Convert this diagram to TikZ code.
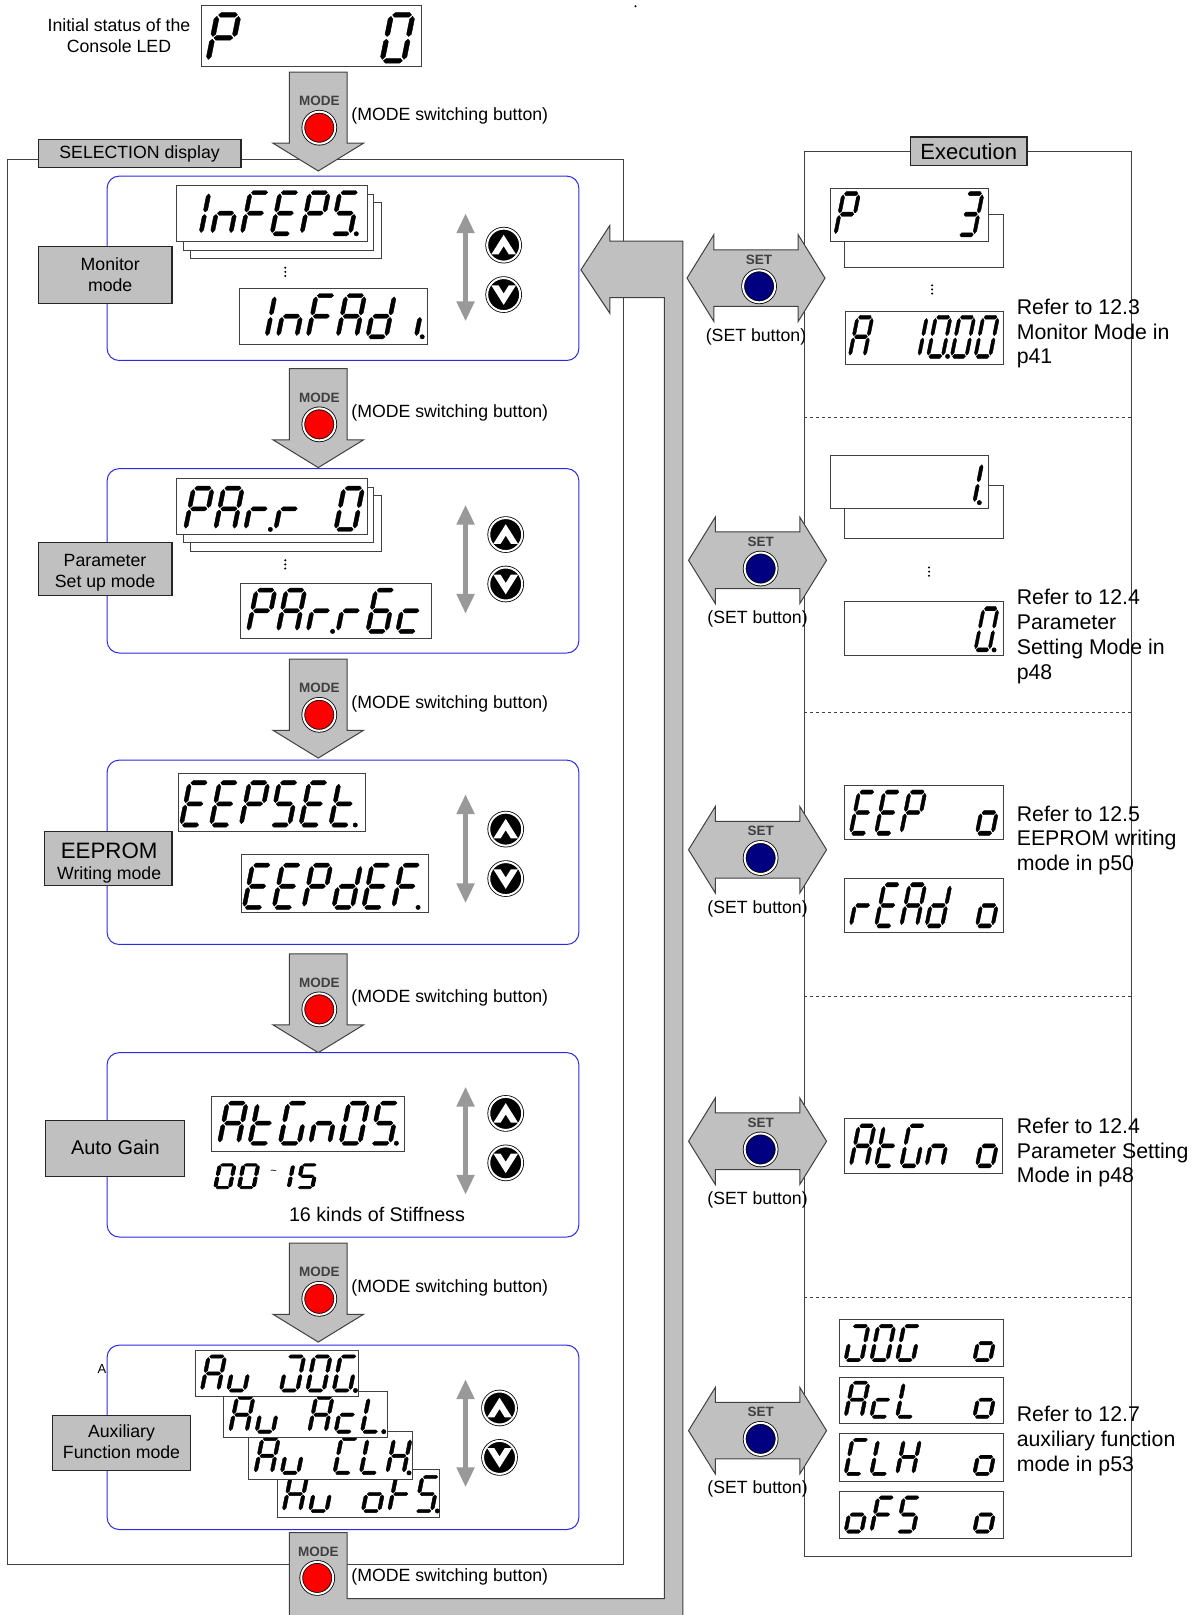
\documentclass[tikz,border=0pt]{standalone}
\usepackage{fontspec}
\setmainfont{Liberation Sans}
\usetikzlibrary{arrows.meta}

\definecolor{panelgray}{HTML}{C0C0C0}
\definecolor{edgegray}{HTML}{404040}
\definecolor{updowngray}{HTML}{999999}
\definecolor{panelblue}{HTML}{2A2AE8}
\definecolor{setblue}{HTML}{000080}

\newcommand{\fsa}{\fontsize{17.7}{21}\selectfont}
\newcommand{\fsb}{\fontsize{21.3}{24.7}\selectfont}

\tikzset{
  frameline/.style={draw=edgegray, line width=1pt},
  graybox/.style={draw=black!85, fill=panelgray, line width=1.2pt},
  bluepanel/.style={draw=panelblue, fill=white, line width=1pt, rounded corners=12pt},
  ledframe/.style={draw=edgegray, fill=white, line width=0.9pt},
  grayarrow/.style={draw=edgegray, fill=panelgray, line width=1pt},
  ledseg/.style={draw=black, fill=black, line join=round},
  keynote/.style={font=\fontsize{13.5}{14}\selectfont\bfseries, text=edgegray, inner sep=0pt},
  btnnote/.style={font=\fsa, inner sep=0pt},
  refnote/.style={font=\fsb, anchor=west, align=left, inner sep=0pt},
  boxnote/.style={font=\fsa, align=center, inner sep=0pt},
  modebtn/.style={circle, draw=black, fill=red, double=white, double distance=2pt, line width=0.8pt, minimum size=32pt, inner sep=0pt},
  setbtn/.style={modebtn, fill=setblue},
  arrowbtn/.style={modebtn, fill=black, minimum size=33pt},
  updown/.style={draw=updowngray, line width=5pt, {Triangle[length=20pt,width=17pt]}-{Triangle[length=20pt,width=17pt]}},
}

% the seven segments, in a cell one wide and one high
\expandafter\def\csname ledp@a\endcsname{(.06,1) -- (.17,1.05) -- (.83,1.05) -- (.94,1) -- (.83,.95) -- (.17,.95) -- cycle}
\expandafter\def\csname ledp@d\endcsname{(.06,0) -- (.17,.05) -- (.83,.05) -- (.94,0) -- (.83,-.05) -- (.17,-.05) -- cycle}
\expandafter\def\csname ledp@g\endcsname{(.06,.5) -- (.17,.55) -- (.83,.55) -- (.94,.5) -- (.83,.45) -- (.17,.45) -- cycle}
\expandafter\def\csname ledp@b\endcsname{(1,.97) -- (1.11,.91) -- (1.11,.58) -- (1,.53) -- (.89,.58) -- (.89,.91) -- cycle}
\expandafter\def\csname ledp@c\endcsname{(1,.47) -- (1.11,.42) -- (1.11,.09) -- (1,.03) -- (.89,.09) -- (.89,.42) -- cycle}
\expandafter\def\csname ledp@e\endcsname{(0,.47) -- (.11,.42) -- (.11,.09) -- (0,.03) -- (-.11,.09) -- (-.11,.42) -- cycle}
\expandafter\def\csname ledp@f\endcsname{(0,.97) -- (.11,.91) -- (.11,.58) -- (0,.53) -- (-.11,.58) -- (-.11,.91) -- cycle}
\expandafter\def\csname ledp@p\endcsname{(1.33,0) circle (2.2pt)}
\expandafter\def\csname ledp@z\endcsname{(0,0)}

\newcommand{\defled}[2]{%
  \expandafter\def\csname led@#1\endcsname{#2}%
  \expandafter\def\csname led@#1.\endcsname{#2,p}}
\defled{x}{z}
\defled{0}{a,b,c,d,e,f}
\defled{1}{b,c}
\defled{3}{a,b,c,d,g}
\defled{5}{a,c,d,f,g}
\defled{6}{a,c,d,e,f,g}
\defled{A}{a,b,c,e,f,g}
\defled{C}{a,d,e,f}
\defled{E}{a,d,e,f,g}
\defled{F}{a,e,f,g}
\defled{G}{a,c,d,e,f}
\defled{H}{b,c,e,f,g}
\defled{J}{a,b,c,d,e}
\defled{L}{d,e,f}
\defled{P}{a,b,e,f,g}
\defled{c}{d,e,g}
\defled{d}{b,c,d,e,g}
\defled{i}{c}
\defled{n}{c,e,g}
\defled{o}{c,d,e,g}
\defled{r}{e,g}
\defled{t}{d,e,f,g}
\defled{u}{c,d,e}

% x of first cell, baseline, advance, height, characters
\newcommand{\ledtext}[5]{%
  \foreach \ch [count=\i from 0] in {#5} {
    \begin{scope}[shift={({#1+\i*#3},#2)}, x={(0.62*#3*1.03pt,0pt)}, y={(0.2*#4*1.03pt,#4*1.03pt)}, line width={(#4<30?0.8:0.4)*1pt}]
      \expandafter\let\expandafter\ledsegs\csname led@\ch\endcsname
      \foreach \g in \ledsegs {
        \expandafter\let\expandafter\ledpath\csname ledp@\g\endcsname
        \draw[ledseg] \ledpath;
      }
    \end{scope}
  }}

\newcommand{\leddots}[2]{%
  \foreach \k in {-4,0,4} {\fill[black] (#1,#2+\k) circle (1.1);}}

\begin{document}
\begin{tikzpicture}[x=1.03pt, y=-1.03pt]
\useasboundingbox (0,0) rectangle (1166,1568);

% frames
\draw[frameline] (7,155) rectangle (605,1519);
\node[graybox, minimum width=197pt*1.03, minimum height=27pt*1.03, inner sep=0pt, font=\fsa] (seltitle) at (135.5,149) {SELECTION display};
\draw[frameline] (781,147) rectangle (1098.5,1511);
\node[graybox, minimum width=113pt*1.03, minimum height=28pt*1.03, inner sep=0pt, font=\fontsize{22}{24}\selectfont] (exetitle) at (940.5,147) {Execution};
\foreach \y in {405,692,967,1260} {
  \draw[draw=edgegray, line width=0.9pt, dashed] (781,\y) -- (1098.5,\y);
}
\fill[black] (617,6) circle (1.1);

% blue panels
\node[font=\fontsize{13}{14}\selectfont, inner sep=0pt] (auxa) at (99,1329) {A};
\foreach \y in {171,455,738,1022,1306} {
  \draw[bluepanel] (104,\y) rectangle (562,\y+179);
}

% mode names
\draw[graybox] (37,239) rectangle (167,295);
\node[boxnote] (monitor) at (107,267) {Monitor\\mode};
\draw[graybox] (37,527) rectangle (167,578);
\node[boxnote] (param) at (102,556) {Parameter\\Set up mode};
\draw[graybox] (43,807) rectangle (167,860);
\node[boxnote] (eeprom) at (106,838) {{\fontsize{22.3}{24}\selectfont EEPROM}\\Writing mode};
\draw[graybox] (44,1088) rectangle (179,1142);
\node[boxnote, font=\fontsize{19.9}{22}\selectfont] (autogain) at (112,1114) {Auto Gain};
\draw[graybox] (51,1374) rectangle (185,1428);
\node[boxnote] (auxmode) at (118,1400) {Auxiliary\\Function mode};

% long way back to the SELECTION side
\draw[grayarrow] (281,1488) -- (337,1488) -- (337,1552) -- (645,1552) -- (645,289) -- (592,289) -- (592,304)
  -- (564,262) -- (592,219) -- (592,234) -- (663,234) -- (663,1580) -- (281,1580) -- cycle;
\node[keynote] (modetxtf) at (309,1507) {MODE};
\node[modebtn] (modebtnf) at (308,1532) {};
\node[btnnote, anchor=west] (modenotef) at (341,1531) {(MODE switching button)};

% MODE arrows
\foreach \n/\y in {a/70,b/358,c/640,d/926,e/1207} {
  \draw[grayarrow] (281,\y) -- (337,\y) -- (337,\y+69) -- (353,\y+69) -- (309,\y+96) -- (265,\y+69) -- (281,\y+69) -- cycle;
  \node[keynote] (modetxt\n) at (310,\y+28) {MODE};
  \node[modebtn] (modebtn\n) at (310,\y+54) {};
  \node[btnnote, anchor=west] (modenote\n) at (341,\y+43) {(MODE switching button)};
}

% SET arrows
\foreach \n/\x/\y in {a/734/270,b/735.5/544,c/735.5/825,d/735.5/1108,e/735.5/1389} {
  \draw[grayarrow] (\x-67,\y) -- (\x-41,\y-42) -- (\x-41,\y-27.5) -- (\x+41,\y-27.5) -- (\x+41,\y-42) -- (\x+67,\y)
    -- (\x+41,\y+42) -- (\x+41,\y+27.5) -- (\x-41,\y+27.5) -- (\x-41,\y+42) -- cycle;
  \node[keynote] (settxt\n) at (\x+3,\y-18) {SET};
  \node[setbtn] (setbtn\n) at (\x+3,\y+8) {};
  \node[btnnote] (setnote\n) at (\x,\y+57) {(SET button)};
}

% up and down
\foreach \n/\x/\ya/\yb/\kx/\ku/\kd in {a/452/207/312/489/238/286,b/452/490/596/491/519/567,c/452/771/877/491/805/853,d/452/1055/1160/491/1081/1129,e/452/1339/1444/485/1367/1415} {
  \coordinate (top\n) at (\x,\ya);
  \coordinate (bot\n) at (\x,\yb);
  \draw[updown] (top\n) -- (bot\n);
  \node[arrowbtn] (keyup\n) at (\kx,\ku) {};
  \node[arrowbtn] (keydn\n) at (\kx,\kd) {};
  \fill[white] (\kx,\ku-10) -- (\kx+12,\ku+9) -- (\kx+5,\ku+9) -- (\kx,\ku+1) -- (\kx-5,\ku+9) -- (\kx-12,\ku+9) -- cycle;
  \fill[white] (\kx,\kd+10) -- (\kx+12,\kd-9) -- (\kx+5,\kd-9) -- (\kx,\kd-1) -- (\kx-5,\kd-9) -- (\kx-12,\kd-9) -- cycle;
}

% first display
\node[font=\fsa, align=center, inner sep=0pt] (initial) at (115.5,35) {Initial status of the\\Console LED};
\draw[ledframe] (196,5) rectangle (409,65);
\ledtext{202}{59}{33.8}{44.5}{P,x,x,x,x,0}

% monitor mode
\draw[ledframe] (185,197) rectangle (370,251);
\draw[ledframe] (178,189) rectangle (363,243);
\draw[ledframe] (171,180) rectangle (357,234);
\ledtext{177}{227}{29}{40}{1,n,F,E,P,5.}
\leddots{277}{264}
\draw[ledframe] (232,280) rectangle (415,334);
\ledtext{241}{327}{29}{40}{1,n,F,A,d,i.}

% parameter mode
\draw[ledframe] (185,481) rectangle (370,535);
\draw[ledframe] (178,473) rectangle (363,527);
\draw[ledframe] (171,465) rectangle (357,519);
\ledtext{180}{514}{29.2}{40}{P,A,r.,r,x,0}
\leddots{277}{548}
\draw[ledframe] (233,566) rectangle (419,620);
\ledtext{241}{613}{29}{40}{P,A,r.,r,6,c}

% EEPROM mode
\draw[ledframe] (173,751) rectangle (355,807);
\ledtext{176}{801}{29}{41}{E,E,P,5,E,t.}
\draw[ledframe] (234,830) rectangle (416,886);
\ledtext{237}{881}{29}{41}{E,E,P,d,E,F.}

% auto gain
\draw[ledframe] (205,1065) rectangle (393,1118);
\ledtext{213}{1110}{29.5}{39}{A,t,G,n,0,5.}
\ledtext{209}{1153}{23}{22}{0,0}
\node[inner sep=0pt, font=\fontsize{11}{12}\selectfont] (tilde) at (265.5,1138) {\textasciitilde};
\ledtext{266}{1153}{23}{22}{1,5}
\node[inner sep=0pt, font=\fontsize{19.7}{22}\selectfont] (stiff) at (366,1179) {16 kinds of Stiffness};

% auxiliary mode
\draw[ledframe] (269,1427) rectangle (427,1473);
\ledtext{275.5}{1467}{25.6}{33}{A,u,x,o,F,5.}
\draw[ledframe] (241.5,1390) rectangle (400,1436);
\ledtext{248}{1430}{25.6}{33}{A,u,x,C,L,H.}
\draw[ledframe] (217,1350.5) rectangle (376,1396);
\ledtext{223.5}{1390}{25.6}{33}{A,u,x,A,c,L.}
\draw[ledframe] (189.5,1311) rectangle (348,1356);
\ledtext{196}{1350}{25.6}{33}{A,u,x,J,0,G.}

% execution side
\draw[ledframe] (820,208) rectangle (974,260);
\draw[ledframe] (806,183) rectangle (960,234);
\ledtext{811}{228}{24}{40}{P,x,x,x,x,3}
\leddots{905}{281}
\draw[ledframe] (821,302) rectangle (974,354);
\ledtext{825}{346}{23}{38}{A}
\ledtext{878}{346}{23}{38}{1,0.,0,0}
\node[refnote] (refa) at (987,324) {Refer to 12.3\\Monitor Mode in\\p41};

\draw[ledframe] (820,471) rectangle (974,523);
\draw[ledframe] (806,442) rectangle (960,494);
\ledtext{931}{488}{24}{38}{1.}
\leddots{902}{555}
\draw[ledframe] (820,584) rectangle (974,636);
\ledtext{947}{631}{22}{40}{0.}
\node[refnote] (refb) at (987,618) {Refer to 12.4\\Parameter\\Setting Mode in\\p48};

\draw[ledframe] (820,763) rectangle (974,815);
\ledtext{826}{809}{24.5}{40}{E,E,P,x,x,o}
\draw[ledframe] (820,853) rectangle (974,905);
\ledtext{826}{899}{24.5}{40}{r,E,A,d,x,o}
\node[refnote] (refc) at (987,816) {Refer to 12.5\\EEPROM writing\\mode in p50};

\draw[ledframe] (820,1086) rectangle (973,1139);
\ledtext{826}{1132}{24.5}{39}{A,t,G,n,x,o}
\node[refnote] (refd) at (987,1119) {Refer to 12.4\\Parameter Setting\\Mode in p48};

\draw[ledframe] (815,1281) rectangle (974,1327);
\ledtext{821}{1320.5}{25}{33}{J,0,G,x,x,o}
\draw[ledframe] (815,1337) rectangle (974,1382);
\ledtext{821}{1375.5}{25}{33}{A,c,L,x,x,o}
\draw[ledframe] (815,1392) rectangle (974,1438);
\ledtext{821}{1431}{25}{33}{C,L,H,x,x,o}
\draw[ledframe] (815,1448) rectangle (974,1494);
\ledtext{821}{1487}{25}{33}{o,F,5,x,x,o}
\node[refnote] (refe) at (987,1399) {Refer to 12.7\\auxiliary function\\mode in p53};
\end{tikzpicture}
\end{document}
